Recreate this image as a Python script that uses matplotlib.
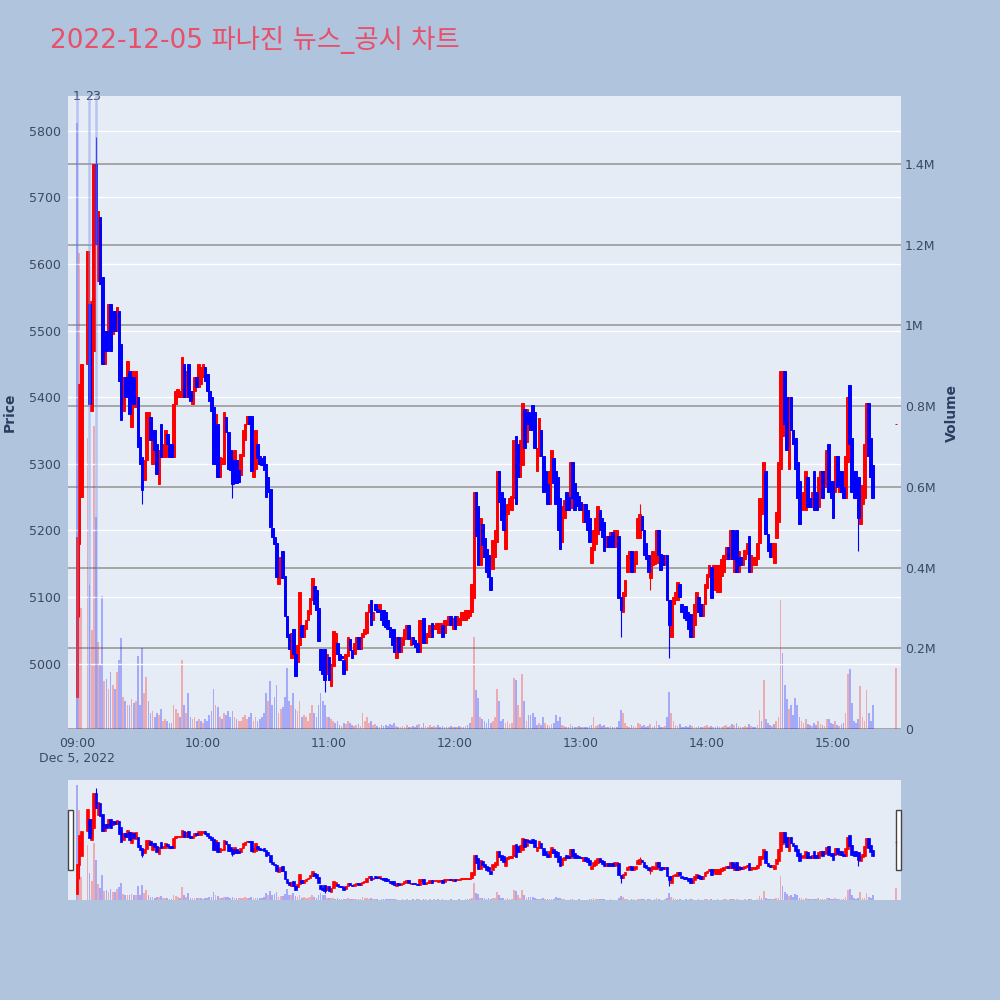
import numpy as np
import pandas as pd
import matplotlib
matplotlib.use('Agg')
import matplotlib.pyplot as plt
import matplotlib.dates as mdates
import matplotlib.transforms as mtrans
from matplotlib.patches import Rectangle

nan = np.nan

# 1-minute candles from 09:00 (09:03-09:04 halted)
opens = [
    4950, 5180, 5250, nan, nan, 5450, 5540, 5380, 5470, 5750,
    5575, 5670, 5580, 5450, 5500, 5490, 5540, 5495, 5530, 5500,
    5530, 5480, 5380, 5430, 5400, 5440, 5355, 5430, 5385, 5400,
    5340, 5310, 5275, 5305, 5340, 5370, 5300, 5350, 5330, 5270,
    5360, 5310, 5310, 5345, 5330, 5330, 5310, 5390, 5400, 5400,
    5400, 5450, 5400, 5450, 5410, 5390, 5410, 5430, 5415, 5420,
    5430, 5445, 5435, 5410, 5400, 5385, 5300, 5360, 5280, 5300,
    5300, 5370, 5348, 5320, 5305, 5271, 5305, 5290, 5283, 5311,
    5335, 5360, 5372, 5372, 5280, 5292, 5329, 5311, 5308, 5311,
    5300, 5280, 5262, 5203, 5190, 5181, 5120, 5130, 5169, 5132,
    5071, 5045, 5009, 5052, 5015, 5003, 5028, 5058, 5040, 5052,
    5065, 5075, 5095, 5117, 5110, 5083, 5022, 5000, 5022, 4985,
    5010, 4966, 4997, 5022, 5031, 5015, 5012, 5006, 4991, 5012,
    5037, 5020, 5015, 5031, 5040, 5022, 5040, 5044, 5046, 5077,
    5095, 5065, 5089, 5082, 5077, 5080, 5080, 5077, 5065, 5055,
    5052, 5052, 5009, 5040, 5018, 5028, 5037, 5046, 5058, 5028,
    5040, 5035, 5031, 5018, 5052, 5068, 5031, 5040, 5040, 5061,
    5052, 5052, 5046, 5052, 5058, 5046, 5058, 5062, 5071, 5052,
    5071, 5058, 5058, 5065, 5065, 5065, 5068, 5071, 5077, 5098,
    5258, 5237, 5148, 5209, 5188, 5172, 5163, 5130, 5142, 5160,
    5182, 5289, 5258, 5249, 5172, 5225, 5235, 5231, 5249, 5342,
    5329, 5280, 5298, 5382, 5332, 5378, 5370, 5388, 5378, 5289,
    5311, 5351, 5311, 5289, 5270, 5240, 5274, 5308, 5289, 5280,
    5249, 5182, 5218, 5258, 5250, 5234, 5302, 5271, 5258, 5252,
    5243, 5212, 5240, 5231, 5218, 5151, 5170, 5180, 5194, 5231,
    5218, 5212, 5175, 5191, 5175, 5197, 5175, 5180, 5191, 5100,
    5077, 5102, 5138, 5157, 5169, 5138, 5150, 5188, 5188, 5222,
    5200, 5181, 5163, 5129, 5148, 5150, 5151, 5200, 5165, 5163,
    5148, 5163, 5095, 5040, 5089, 5095, 5095, 5120, 5089, 5086,
    5086, 5077, 5074, 5040, 5058, 5077, 5100, 5089, 5071, 5089,
    5114, 5130, 5145, 5123, 5111, 5108, 5108, 5132, 5138, 5157,
    5175, 5157, 5200, 5138, 5200, 5138, 5160, 5148, 5157, 5165,
    5191, 5138, 5148, 5148, 5157, 5181, 5225, 5231, 5289, 5194,
    5181, 5160, 5151, 5188, 5212, 5292, 5342, 5440, 5400, 5292,
    5400, 5351, 5338, 5302, 5274, 5231, 5240, 5231, 5280, 5249,
    5235, 5289, 5258, 5235, 5262, 5289, 5265, 5271, 5329, 5274,
    5274, 5258, 5311, 5258, 5289, 5265, 5249, 5302, 5418, 5338,
    5289, 5289, 5280, 5209, 5240, 5249, 5320, 5391, 5338, 5298,
]
closes = [
    5190, 5420, 5450, nan, nan, 5620, 5390, 5545, 5750, 5630,
    5680, 5570, 5450, 5500, 5470, 5540, 5470, 5530, 5500, 5535,
    5425, 5365, 5430, 5400, 5455, 5375, 5440, 5390, 5440, 5325,
    5300, 5260, 5305, 5378, 5378, 5335, 5350, 5320, 5285, 5320,
    5310, 5330, 5350, 5330, 5310, 5310, 5390, 5410, 5412, 5410,
    5460, 5400, 5440, 5400, 5395, 5410, 5430, 5415, 5450, 5445,
    5450, 5425, 5410, 5395, 5380, 5300, 5375, 5280, 5310, 5308,
    5378, 5348, 5292, 5290, 5270, 5320, 5271, 5272, 5314, 5351,
    5360, 5372, 5360, 5289, 5317, 5351, 5308, 5300, 5298, 5290,
    5250, 5258, 5205, 5190, 5180, 5130, 5151, 5160, 5129, 5071,
    5040, 5022, 5046, 5015, 4982, 5028, 5108, 5040, 5058, 5065,
    5080, 5098, 5129, 5089, 5080, 5034, 4990, 4985, 4975, 5015,
    4975, 5000, 5049, 5046, 5015, 5006, 5008, 4985, 5015, 5040,
    5020, 5009, 5031, 5040, 5022, 5040, 5046, 5052, 5077, 5089,
    5058, 5077, 5080, 5077, 5089, 5065, 5058, 5055, 5052, 5040,
    5028, 5018, 5040, 5018, 5030, 5040, 5052, 5058, 5037, 5040,
    5030, 5025, 5018, 5065, 5065, 5031, 5040, 5046, 5058, 5040,
    5058, 5061, 5061, 5061, 5040, 5065, 5065, 5071, 5058, 5068,
    5052, 5071, 5068, 5077, 5077, 5080, 5080, 5080, 5120, 5258,
    5191, 5148, 5218, 5178, 5160, 5138, 5130, 5111, 5185, 5200,
    5289, 5243, 5215, 5200, 5237, 5240, 5249, 5252, 5335, 5240,
    5280, 5335, 5391, 5323, 5382, 5360, 5351, 5351, 5323, 5323,
    5369, 5311, 5258, 5260, 5240, 5289, 5320, 5271, 5240, 5200,
    5172, 5237, 5246, 5231, 5231, 5302, 5249, 5231, 5237, 5231,
    5231, 5240, 5212, 5200, 5182, 5175, 5200, 5218, 5237, 5200,
    5190, 5169, 5191, 5175, 5197, 5175, 5200, 5200, 5098, 5080,
    5108, 5126, 5163, 5169, 5138, 5160, 5169, 5218, 5225, 5200,
    5163, 5157, 5138, 5157, 5169, 5165, 5200, 5163, 5140, 5148,
    5163, 5095, 5058, 5095, 5100, 5108, 5123, 5100, 5077, 5068,
    5065, 5052, 5040, 5058, 5089, 5108, 5077, 5071, 5089, 5120,
    5135, 5148, 5098, 5148, 5148, 5148, 5148, 5157, 5163, 5175,
    5157, 5200, 5157, 5188, 5138, 5169, 5148, 5160, 5170, 5181,
    5138, 5163, 5160, 5160, 5181, 5249, 5249, 5302, 5194, 5169,
    5160, 5181, 5181, 5228, 5302, 5440, 5440, 5360, 5320, 5400,
    5351, 5329, 5292, 5249, 5209, 5250, 5258, 5289, 5235, 5235,
    5258, 5231, 5231, 5280, 5289, 5249, 5289, 5320, 5258, 5249,
    5218, 5311, 5265, 5289, 5258, 5249, 5311, 5400, 5329, 5258,
    5249, 5249, 5218, 5249, 5268, 5330, 5391, 5311, 5280, 5249,
]
# volume in thousands of shares
volumes = [
    1500, 1180, 300, nan, nan, 720, 357, 245, 750, 525,
    215, 160, 330, 120, 125, 100, 140, 110, 100, 140,
    170, 225, 80, 70, 60, 60, 75, 65, 70, 180,
    60, 200, 90, 130, 70, 40, 45, 30, 40, 35,
    50, 20, 25, 20, 15, 15, 60, 50, 40, 30,
    170, 60, 40, 90, 30, 25, 30, 20, 25, 20,
    15, 25, 20, 35, 45, 100, 60, 55, 30, 25,
    40, 35, 45, 30, 45, 30, 25, 20, 20, 30,
    35, 25, 30, 40, 20, 30, 20, 25, 30, 40,
    90, 70, 120, 60, 80, 110, 40, 50, 55, 80,
    150, 70, 60, 90, 50, 45, 70, 30, 35, 30,
    20, 40, 60, 40, 30, 60, 90, 70, 60, 30,
    30, 25, 20, 15, 20, 10, 8, 15, 12, 20,
    15, 10, 8, 10, 12, 8, 40, 20, 30, 15,
    20, 10, 12, 8, 6, 10, 8, 10, 8, 12,
    10, 15, 8, 6, 5, 8, 6, 10, 5, 6,
    8, 5, 10, 12, 6, 15, 8, 6, 10, 5,
    8, 6, 10, 6, 8, 5, 6, 5, 8, 5,
    6, 5, 8, 6, 5, 8, 10, 15, 30, 228,
    96, 76, 30, 25, 20, 15, 25, 15, 20, 30,
    100, 70, 20, 25, 15, 20, 12, 15, 127, 122,
    60, 30, 137, 70, 20, 35, 35, 40, 30, 10,
    15, 10, 30, 15, 10, 8, 12, 15, 35, 20,
    30, 10, 8, 6, 5, 12, 8, 6, 5, 8,
    6, 5, 4, 6, 8, 10, 30, 8, 10, 12,
    8, 10, 6, 5, 8, 5, 6, 4, 20, 46,
    40, 15, 8, 6, 10, 8, 6, 15, 12, 8,
    10, 6, 8, 12, 6, 8, 20, 10, 6, 5,
    8, 30, 91, 40, 20, 10, 8, 12, 6, 5,
    8, 6, 10, 8, 6, 5, 8, 6, 5, 8,
    10, 6, 8, 5, 6, 8, 5, 6, 8, 10,
    6, 8, 12, 10, 15, 8, 6, 5, 8, 6,
    12, 8, 6, 5, 10, 46, 20, 122, 25, 15,
    10, 8, 12, 20, 30, 320, 188, 110, 75, 50,
    60, 35, 76, 60, 30, 20, 15, 25, 12, 10,
    8, 15, 10, 20, 12, 10, 8, 25, 25, 15,
    12, 20, 10, 8, 12, 15, 40, 137, 149, 65,
    20, 15, 25, 107, 30, 20, 96, 40, 20, 60,
]
# closing auction
close_time = '15:30'
close_price = 5360
close_volume = 152

wick_high = {'09:09': 5790, '13:28': 5240}
wick_low = {'09:01': 5070, '09:31': 5240, '10:14': 5249, '10:58': 4958,
            '13:19': 5040, '13:33': 5111, '13:42': 5009, '15:12': 5169}

news_times = ['09:00:00', '09:05:30', '09:09:00']
news_labels = ['1', '2', '3']

price_ticks = [5000, 5100, 5200, 5300, 5400, 5500, 5600, 5700, 5800]
vol_ticks = [0, 200e3, 400e3, 600e3, 800e3, 1000e3, 1200e3, 1400e3]
vol_labels = ['0', '0.2M', '0.4M', '0.6M', '0.8M', '1M', '1.2M', '1.4M']

day = '2022-12-05'
times = pd.date_range(day + ' 09:00', periods=len(closes), freq='min')
df = pd.DataFrame({'open': opens, 'close': closes,
                   'volume': np.array(volumes, dtype=float) * 1000}, index=times)
df.loc[pd.Timestamp(day + ' ' + close_time)] = [close_price, close_price, close_volume * 1000]
df = df.dropna()
df['high'] = df[['open', 'close']].max(axis=1)
df['low'] = df[['open', 'close']].min(axis=1)
for t, v in wick_high.items():
    df.loc[pd.Timestamp(day + ' ' + t), 'high'] = v
for t, v in wick_low.items():
    df.loc[pd.Timestamp(day + ' ' + t), 'low'] = v

up = df['close'] >= df['open']
vol_up = df['close'] > df['close'].shift(1)

RED = '#ff0000'
BLUE = '#0000ff'
PLOT_BG = '#e5ecf6'
FIG_BG = '#b0c4de'
TXT = '#3b4a5e'

one_min = 1 / 1440
t0 = pd.Timestamp(day + ' 09:00')
xlim = (t0 - pd.Timedelta(minutes=4.3), t0 + pd.Timedelta(minutes=392.4))
plim = (4902, 5852)
vlim = (0, 1.568e6)


def draw(axp, axv, main=True):
    x = mdates.date2num(df.index.to_pydatetime())
    cols = np.where(vol_up, RED, BLUE)
    axv.bar(x, df['volume'], width=0.8 * one_min, color=cols, alpha=0.28, linewidth=0)
    ccols = np.where(up, RED, BLUE)
    lw = 0.7 if main else 0.5
    for mask in (up.values, ~up.values):
        xx = x[mask]
        axp.vlines(xx, df['low'].values[mask], df['high'].values[mask],
                   color=ccols[mask], linewidth=0.8, zorder=3)
        body = df['close'].values[mask] - df['open'].values[mask]
        axp.bar(xx, body, bottom=df['open'].values[mask], width=1.3 * one_min,
                color=ccols[mask], edgecolor=ccols[mask], linewidth=lw, zorder=3)
    for a in (axp, axv):
        a.set_xlim(mdates.date2num(xlim[0]), mdates.date2num(xlim[1]))
        for s in a.spines.values():
            s.set_visible(False)
    axp.set_ylim(*plim)
    axv.set_ylim(*vlim)
    axp.set_zorder(axv.get_zorder() + 1)
    axp.patch.set_visible(False)
    axv.patch.set_visible(True)
    axv.patch.set_facecolor(PLOT_BG)


fig = plt.figure(figsize=(10, 10), dpi=100, facecolor=FIG_BG)

# main chart
ax = fig.add_axes([0.068, 0.271, 0.833, 0.633])
axv = ax.twinx()
draw(ax, axv)

ax.set_yticks(price_ticks)
ax.yaxis.grid(True, color='white', linewidth=1.0)
ax.set_axisbelow(True)
axv.set_yticks(vol_ticks)
axv.set_yticklabels(vol_labels)
axv.yaxis.grid(True, color='#9a9a9a', linewidth=1.2)
axv.set_axisbelow(True)
ax.tick_params(axis='y', length=0, pad=5, labelsize=9, labelcolor=TXT)
axv.tick_params(axis='y', length=0, pad=3, labelsize=9, labelcolor=TXT)
ax.xaxis.set_major_locator(mdates.HourLocator())
ax.xaxis.set_major_formatter(mdates.DateFormatter('%H:%M'))
ax.tick_params(axis='x', length=0, pad=6, labelsize=9, labelcolor=TXT)
axv.tick_params(axis='x', bottom=False, labelbottom=False)

btrans = mtrans.blended_transform_factory(ax.transData, ax.transAxes)
ax.text(mdates.date2num(t0), -0.046, 'Dec 5, 2022', transform=btrans,
        ha='center', va='center', fontsize=9, color=TXT)

for t, lab in zip(news_times, news_labels):
    xn = mdates.date2num(pd.Timestamp(day + ' ' + t))
    ax.axvline(xn, color='#7f95ee', alpha=0.45, linewidth=1.8, zorder=4)
    ax.text(xn, 1.0, lab, transform=btrans, ha='center', va='center',
            fontsize=9, color=TXT, clip_on=False)

fig.text(0.010, 0.5875, 'Price', rotation=90, ha='center', va='center',
         fontsize=10, fontweight='bold', color='#2a3f5f')
fig.text(0.952, 0.5875, 'Volume', rotation=90, ha='center', va='center',
         fontsize=10, fontweight='bold', color='#2a3f5f')

fig.text(0.05, 0.96, '2022-12-05 파나진 뉴스_공시 차트', ha='left', va='center',
         fontsize=19, color='#e8506a', family=['DejaVu Sans', 'Noto Sans CJK KR'])

# range slider
axs = fig.add_axes([0.068, 0.100, 0.833, 0.120])
axsv = axs.twinx()
draw(axs, axsv, main=False)
for a in (axs, axsv):
    a.set_xticks([])
    a.set_yticks([])

for hx in (0.068, 0.896):
    fig.add_artist(Rectangle((hx, 0.130), 0.005, 0.060, transform=fig.transFigure,
                             facecolor='white', edgecolor='#444444', linewidth=1))

fig.savefig('out.png', dpi=100, facecolor=FIG_BG)
